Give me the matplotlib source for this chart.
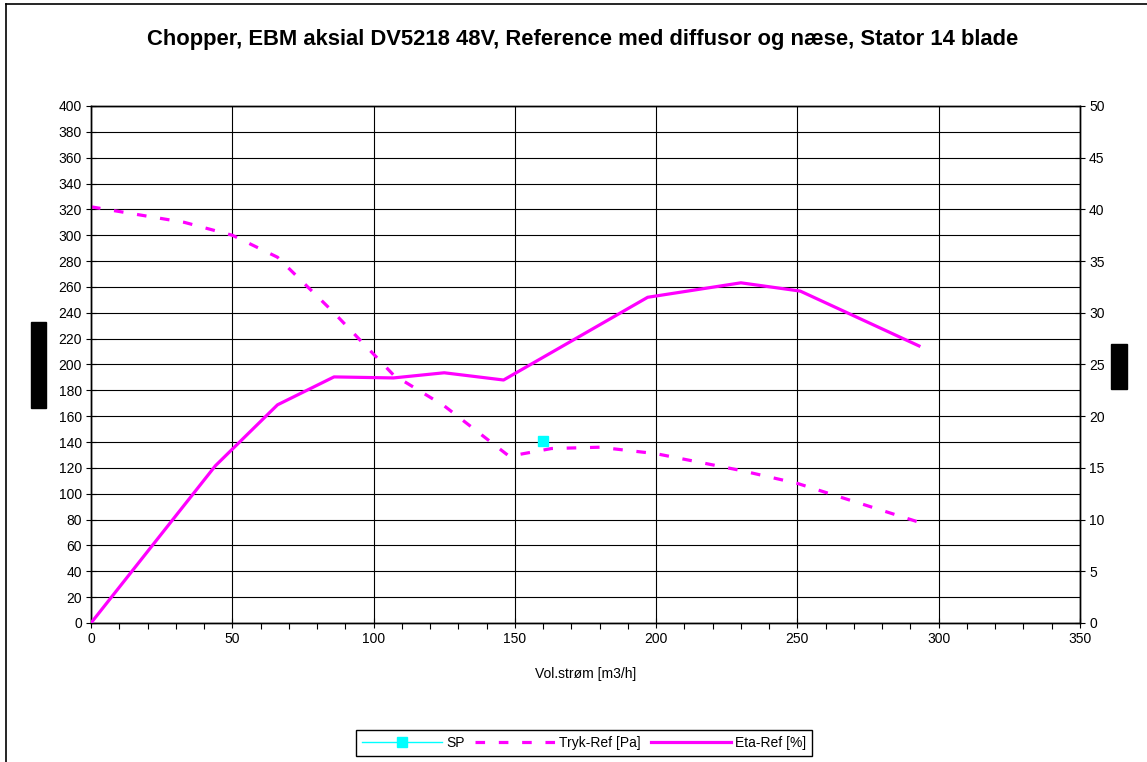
import numpy as np
import matplotlib.pyplot as plt
from matplotlib.patches import Rectangle
from matplotlib.lines import Line2D
from matplotlib.ticker import MultipleLocator

plt.rcParams['font.family'] = ['Liberation Sans', 'DejaVu Sans']

# measured curves
flow_tryk = [0, 33, 50, 66, 86, 107, 125, 148, 163, 180, 200, 230, 250, 293]
tryk_ref = [322, 310, 300, 283, 240, 192, 168, 129, 135, 136, 131, 118, 108, 78]

flow_eta = [0, 44, 66, 86, 107, 125, 146, 197, 230, 251, 293]
eta_ref = [0, 15.2, 21.1, 23.8, 23.7, 24.2, 23.5, 31.5, 32.9, 32.1, 26.8]

sp_flow = [160]
sp_tryk = [141]

W, H = 1147, 762
fig = plt.figure(figsize=(W / 100, H / 100), dpi=100)
ax = fig.add_axes([91 / W, 1 - 623 / H, (1080 - 91) / W, (623 - 106) / H])
ax2 = ax.twinx()

ax.set_xlim(0, 350)
ax.set_ylim(0, 400)
ax2.set_ylim(0, 50)
ax.xaxis.set_major_locator(MultipleLocator(50))
ax.xaxis.set_minor_locator(MultipleLocator(10))
ax.yaxis.set_major_locator(MultipleLocator(20))
ax2.yaxis.set_major_locator(MultipleLocator(5))

ax.grid(True, which='major', color='black', lw=0.8)
ax.set_axisbelow(True)
for a in (ax, ax2):
    for s in a.spines.values():
        s.set_linewidth(1.0)
ax.tick_params(which='major', direction='inout', length=7, width=0.8, labelsize=10, pad=3)
ax.tick_params(which='minor', axis='x', direction='out', length=4, width=0.8)
ax2.tick_params(which='major', direction='inout', length=7, width=0.8, labelsize=10, pad=3)

l_sp, = ax.plot(sp_flow, sp_tryk, color='#00FFFF', lw=1, marker='s', ms=7, zorder=5)
l_tryk, = ax.plot(flow_tryk, tryk_ref, color='#FF00FF', lw=2.3, dashes=(3, 4.3), zorder=4)
l_eta, = ax2.plot(flow_eta, eta_ref, color='#FF00FF', lw=2.3, zorder=4)
ax2.set_zorder(ax.get_zorder() + 1)
ax2.patch.set_visible(False)

ax.set_xlabel('Vol.strøm [m3/h]', fontsize=10, labelpad=15)
fig.text(583 / W, 1 - 40 / H, 'Chopper, EBM aksial DV5218 48V, Reference med diffusor og næse, Stator 14 blade',
         ha='center', va='center', fontsize=15.8, fontweight='bold')

leg = fig.legend([l_sp, l_tryk, l_eta], ['SP', 'Tryk-Ref [Pa]', 'Eta-Ref [%]'],
                 loc='center', bbox_to_anchor=(584 / W, 1 - 743 / H), ncol=3,
                 fontsize=10, handlelength=5.8, handletextpad=0.3, columnspacing=0.7,
                 fancybox=False, framealpha=1, edgecolor='black', borderpad=0.4)
leg.get_frame().set_linewidth(1.0)

# blacked-out axis titles
fig.add_artist(Rectangle((31 / W, 1 - 408 / H), 15 / W, 86 / H, transform=fig.transFigure,
                         color='black'))
fig.add_artist(Rectangle((1111 / W, 1 - 389 / H), 16 / W, 45 / H, transform=fig.transFigure,
                         color='black'))

# outer chart border
fig.add_artist(Line2D([6 / W, 6 / W], [0, 1 - 4 / H], transform=fig.transFigure, color='black', lw=1.2))
fig.add_artist(Line2D([6 / W, 1], [1 - 4 / H, 1 - 4 / H], transform=fig.transFigure, color='black', lw=1.2))

fig.savefig('out.png', dpi=100)
